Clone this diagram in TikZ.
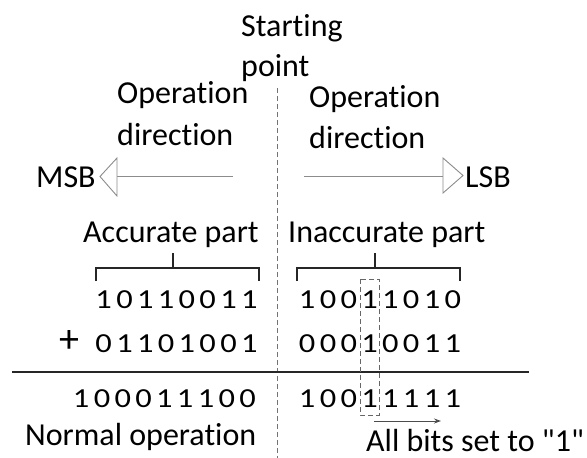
\documentclass[tikz,border=0pt]{standalone}
\usepackage{fontspec}
\setmainfont{Carlito}[Ligatures={TeXOff,CommonOff}]
\newfontfamily\digfont{Carlito}[FakeStretch=1.18]
\usetikzlibrary{arrows.meta}
\def\bits#1{\bitsaux#1\relax}
\def\bitsaux#1{\ifx#1\relax\else\makebox[20.8pt]{#1}\expandafter\bitsaux\fi}
\begin{document}
\begin{tikzpicture}[x=1pt,y=-1pt,
  lbl/.style={font=\fontsize{32}{38}\selectfont, inner sep=0pt, anchor=base west},
  num/.style={font=\digfont\fontsize{27.5}{30}\selectfont, inner sep=0pt, anchor=base west},
  grayline/.style={draw=black!45, line width=0.9pt},
  brk/.style={draw=black!85, line width=1.8pt},
  sep/.style={draw=black!55, line width=0.8pt, dash pattern=on 5pt off 3pt}]
\useasboundingbox (0,0) rectangle (587,458);
% texts
\node[lbl] (start) at (241,36) {Starting};
\node[lbl] (point) at (241,76) {point};
\node[lbl] (opL) at (117,103) {Operation};
\node[lbl] (dirL) at (117,145) {direction};
\node[lbl] (opR) at (309,107) {Operation};
\node[lbl] (dirR) at (309,148) {direction};
\node[lbl] (msb) at (36,187) {MSB};
\node[lbl] (lsb) at (465,187) {LSB};
\node[lbl] (acc) at (83,242) {Accurate part};
\node[lbl] (inacc) at (288,242) {Inaccurate part};
\node[lbl] (normal) at (25,445) {Normal operation};
\node[lbl] (allbits) at (366,451) {All bits set to "1"};
% numbers
\node[num] (r1L) at (93.1,308) {\bits{10110011}};
\node[num] (r2L) at (93.1,352) {\bits{01101001}};
\node[num] (r3L) at (70.6,407) {\bits{100011100}};
\node[num] (r1R) at (296.6,308) {\bits{10011010}};
\node[num] (r2R) at (296.6,352) {\bits{00010011}};
\node[num] (r3R) at (296.6,407) {\bits{10011111}};
\node[font=\fontsize{40}{44}\selectfont, inner sep=0pt] (plus) at (69,341) {+};
% separator
\coordinate (sepTop) at (277,88);
\coordinate (sepBot) at (277,458);
\draw[sep] (sepTop) -- (sepBot);
% direction arrows
\draw[grayline] (233,176) -- (117,176);
\draw[grayline, fill=white, line join=miter] (117,158) -- (100,176.5) -- (117,196) -- cycle;
\draw[grayline] (304,176) -- (443,176);
\draw[grayline, fill=white, line join=miter] (443,158) -- (463,175.5) -- (443,193) -- cycle;
% brackets
\draw[brk] (96,281) -- (96,268) -- (259,268) -- (259,281);
\draw[brk] (173,268) -- (173,253);
\draw[brk] (297,281) -- (297,268) -- (460,268) -- (460,281);
\draw[brk] (375,268) -- (375,253);
% sum line
\draw[draw=black!85, line width=2pt] (12,372) -- (529,372);
% dashed box
\draw[draw=black!60, line width=0.8pt, dash pattern=on 5pt off 3pt] (360,279) rectangle (379,415);
% small arrow
\draw[draw=black!70, line width=0.9pt, -{Stealth[length=7pt,width=5pt]}] (374,421) -- (441,421);
\end{tikzpicture}
\end{document}
